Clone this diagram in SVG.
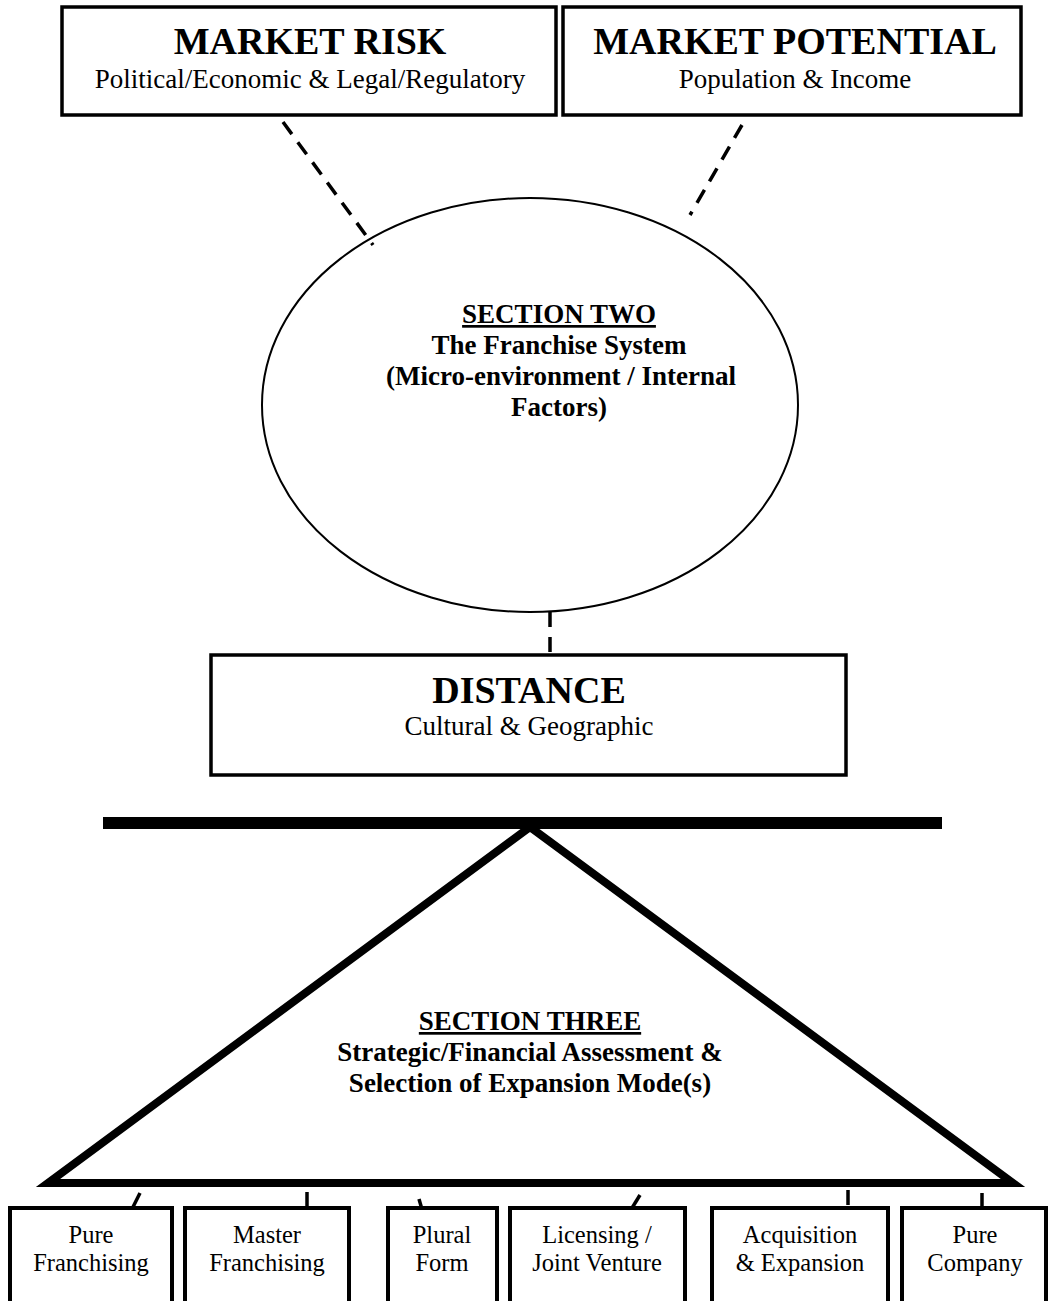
<svg xmlns="http://www.w3.org/2000/svg" width="1050" height="1301" viewBox="0 0 1050 1301">
<style>
text{font-family:"Liberation Serif","Times New Roman",serif;fill:#000;text-anchor:middle}
.big{font-size:38px;font-weight:bold}
.sub{font-size:27px}
.hd{font-size:27px;font-weight:bold}
.lb{font-size:24.5px}
.box{fill:#fff;stroke:#000;stroke-width:3.5}
.sbox{fill:#fff;stroke:#000;stroke-width:4}
.dash{stroke:#000;stroke-width:3.5;stroke-dasharray:15 10;fill:none}
.tick{stroke:#000;stroke-width:3.5}
</style>
<rect width="1050" height="1301" fill="#fff"/>
<g id="connectors">
<line class="dash" x1="283" y1="122" x2="373" y2="245"/>
<line class="dash" x1="742" y1="125" x2="690" y2="215"/>
<line class="dash" x1="550" y1="612" x2="550" y2="655" stroke-dasharray="13 8"/>
<line class="tick" x1="140" y1="1193" x2="133" y2="1207"/>
<line class="tick" x1="307" y1="1192" x2="307" y2="1207"/>
<line class="tick" x1="419" y1="1199" x2="423" y2="1213"/>
<line class="tick" x1="640" y1="1195" x2="632" y2="1208"/>
<line class="tick" x1="848" y1="1190" x2="848" y2="1205"/>
<line class="tick" x1="982" y1="1193" x2="982" y2="1208"/>
</g>
<g id="market-risk">
<rect class="box" x="62" y="7" width="494" height="108"/>
<text class="big" x="310" y="54">MARKET RISK</text>
<text class="sub" x="310" y="88">Political/Economic &amp; Legal/Regulatory</text>
</g>
<g id="market-potential">
<rect class="box" x="563" y="7" width="458" height="108"/>
<text class="big" x="795" y="54">MARKET POTENTIAL</text>
<text class="sub" x="795" y="88">Population &amp; Income</text>
</g>
<g id="section-two">
<ellipse cx="530" cy="405" rx="268" ry="207" fill="none" stroke="#000" stroke-width="2"/>
<text class="hd" x="559" y="323" text-decoration="underline">SECTION TWO</text>
<text class="hd" x="559" y="354">The Franchise System</text>
<text class="hd" x="561" y="385">(Micro-environment / Internal</text>
<text class="hd" x="559" y="416">Factors)</text>
</g>
<g id="distance">
<rect class="box" x="211" y="655" width="635" height="120"/>
<text class="big" x="529" y="703">DISTANCE</text>
<text class="sub" x="529" y="735">Cultural &amp; Geographic</text>
</g>
<g id="section-three">
<line x1="103" y1="823" x2="942" y2="823" stroke="#000" stroke-width="12"/>
<polygon points="530,827 48,1183 1013,1183" fill="none" stroke="#000" stroke-width="8" stroke-linejoin="miter"/>
<text class="hd" x="530" y="1030" text-decoration="underline">SECTION THREE</text>
<text class="hd" x="530" y="1061">Strategic/Financial Assessment &amp;</text>
<text class="hd" x="530" y="1092">Selection of Expansion Mode(s)</text>
</g>
<g id="pure-franchising">
<rect class="sbox" x="10" y="1208" width="162" height="100"/>
<text class="lb" x="91" y="1243">Pure</text>
<text class="lb" x="91" y="1271">Franchising</text>
</g>
<g id="master-franchising">
<rect class="sbox" x="185" y="1208" width="164" height="100"/>
<text class="lb" x="267" y="1243">Master</text>
<text class="lb" x="267" y="1271">Franchising</text>
</g>
<g id="plural-form">
<rect class="sbox" x="388" y="1208" width="109" height="100"/>
<text class="lb" x="442" y="1243">Plural</text>
<text class="lb" x="442" y="1271">Form</text>
</g>
<g id="licensing">
<rect class="sbox" x="510" y="1208" width="175" height="100"/>
<text class="lb" x="597" y="1243">Licensing /</text>
<text class="lb" x="597" y="1271">Joint Venture</text>
</g>
<g id="acquisition">
<rect class="sbox" x="712" y="1208" width="176" height="100"/>
<text class="lb" x="800" y="1243">Acquisition</text>
<text class="lb" x="800" y="1271">&amp; Expansion</text>
</g>
<g id="pure-company">
<rect class="sbox" x="902" y="1208" width="144" height="100"/>
<text class="lb" x="975" y="1243">Pure</text>
<text class="lb" x="975" y="1271">Company</text>
</g>
</svg>
